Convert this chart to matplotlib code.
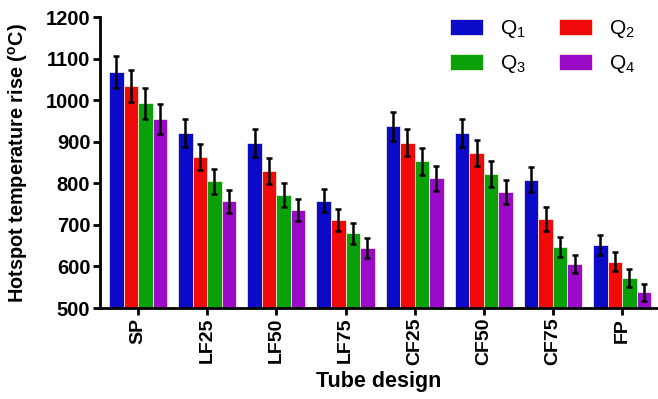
import matplotlib
matplotlib.use('Agg')
import numpy as np
import matplotlib.pyplot as plt

plt.rcParams['font.family'] = ['Liberation Sans', 'DejaVu Sans']
plt.rcParams['mathtext.fontset'] = 'custom'
plt.rcParams['mathtext.rm'] = 'Liberation Sans'
plt.rcParams['mathtext.bf'] = 'Liberation Sans:bold'

designs = ['SP', 'LF25', 'LF50', 'LF75', 'CF25', 'CF50', 'CF75', 'FP']
q1 = [1068, 921, 897, 758, 937, 921, 809, 652]
q2 = [1034, 863, 830, 712, 898, 873, 714, 611]
q3 = [993, 805, 772, 680, 853, 823, 647, 572]
q4 = [955, 757, 736, 645, 812, 780, 606, 538]
e1 = [38, 34, 33, 28, 35, 34, 30, 24]
e2 = [38, 32, 31, 26, 33, 32, 28, 23]
e3 = [37, 30, 29, 25, 32, 31, 24, 21]
e4 = [35, 28, 27, 24, 30, 29, 22, 20]
labels = [r'$\mathregular{Q_1}$', r'$\mathregular{Q_2}$',
          r'$\mathregular{Q_3}$', r'$\mathregular{Q_4}$']
colors = ['#0a0ac8', '#f00a0a', '#0aa00a', '#9a0ac8']

fig = plt.figure(figsize=(6.58, 3.99), dpi=100)
ax = fig.add_axes([0.152, 0.228, 0.846, 0.729])

x = np.arange(len(designs))
w = 0.21
series = [q1, q2, q3, q4]
errs = [e1, e2, e3, e4]
bars = []
for i, (vals, err, c, lab) in enumerate(zip(series, errs, colors, labels)):
    pos = x + (i - 1.5) * w
    b = ax.bar(pos, vals, w, color=c, edgecolor='#fff8e0', linewidth=0.5, label=lab, zorder=2)
    bars.append(b)
    ax.errorbar(pos, vals, yerr=err, fmt='none', ecolor='black', elinewidth=1.8,
                capsize=2.5, capthick=1.8, zorder=3)

ax.set_xlim(-0.55, 7.5)
ax.set_ylim(500, 1200)
ax.set_yticks(range(500, 1201, 100))
ax.set_xticks(x)
ax.set_xticklabels(designs, rotation=90, fontweight='bold', fontsize=14)
for t in ax.get_yticklabels():
    t.set_fontweight('bold')
    t.set_fontsize(14.5)
ax.spines['top'].set_visible(False)
ax.spines['right'].set_visible(False)
ax.spines['left'].set_linewidth(2)
ax.spines['bottom'].set_linewidth(2)
ax.tick_params(width=2, length=5, pad=2)

ax.set_ylabel(r'Hotspot temperature rise ($\mathbf{^{o}C}$)', fontweight='bold', fontsize=14.3)
ax.yaxis.set_label_coords(-0.125, 0.5)
ax.set_xlabel('Tube design', fontweight='bold', fontsize=15.5, labelpad=4)

# row-wise legend order: Q1 Q2 / Q3 Q4
order = [0, 2, 1, 3]
ax.legend([bars[k] for k in order], [labels[k] for k in order],
          loc='upper right', ncol=2, frameon=False, fontsize=15, handlelength=1.6,
          handleheight=0.8, columnspacing=1.6, handletextpad=0.8, labelspacing=0.6,
          bbox_to_anchor=(0.995, 1.06))

fig.savefig('out.png', dpi=100)
